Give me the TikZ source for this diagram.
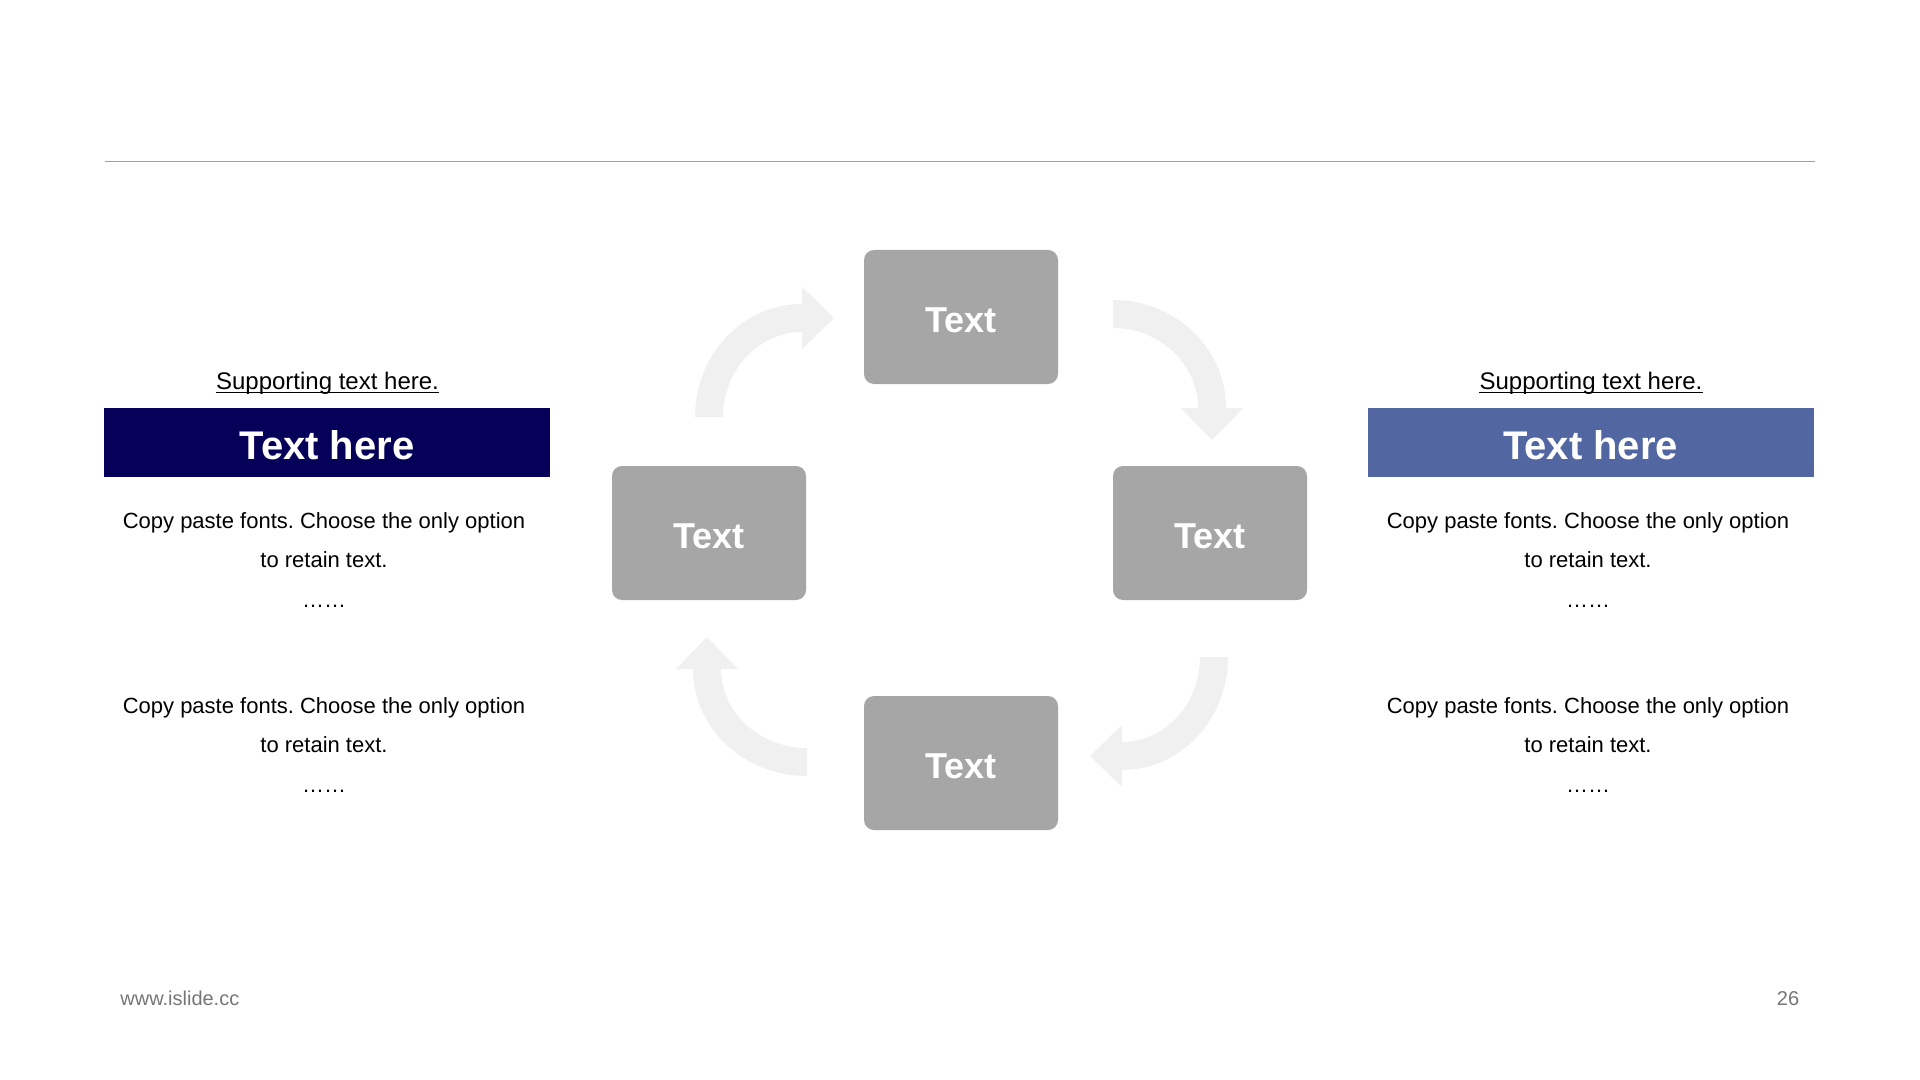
\documentclass[tikz,border=0pt]{standalone}
\usepackage{fontspec}
\setmainfont{Liberation Sans}
\definecolor{BoxGrey}{RGB}{166,166,166}
\definecolor{ArrowGrey}{RGB}{240,240,240}
\definecolor{NavyBar}{RGB}{5,0,88}
\definecolor{SteelBar}{RGB}{82,103,162}
\definecolor{RuleGrey}{RGB}{160,160,160}
\definecolor{FootGrey}{RGB}{118,118,118}
\usepackage{tikz}
\frenchspacing

\begin{document}
\begin{tikzpicture}[x=0.5pt, y=-0.5pt]
		\tikzstyle{stage}=[fill=BoxGrey, rounded corners=5pt, minimum width=97pt, minimum height=67pt, inner sep=0pt, text height=15.4pt, text depth=0pt, text=white, font=\fontsize{18}{20}\selectfont\bfseries];
		\tikzstyle{bar}=[minimum width=223pt, minimum height=34.5pt, inner sep=0pt, text height=17pt, text depth=0pt, text=white, font=\fontsize{20}{24}\selectfont\bfseries];
		\tikzstyle{support}=[anchor=base, inner sep=0pt, font=\fontsize{12}{14}\selectfont];
		\tikzstyle{body}=[anchor=base, inner sep=0pt, font=\fontsize{11}{13}\selectfont];
		\tikzstyle{turn}=[fill=ArrowGrey, draw=none];
		\tikzstyle{foot}=[anchor=base, inner sep=0pt, text=FootGrey, font=\fontsize{10}{12}\selectfont];
		\fill[white] (0,0) rectangle (1920,1080);
		\useasboundingbox (0,0) rectangle (1920,1080);
		\draw[RuleGrey, line width=0.6pt] (105,161.5) -- (1815,161.5);
		% curved arrows
		\fill[turn] (695,417) arc[start angle=180, end angle=270, x radius=107, y radius=113]
			-- (802,287) -- (834,318) -- (802,349) -- (802,332)
			arc[start angle=270, end angle=180, x radius=79, y radius=85] -- cycle;
		\fill[turn] (1113,300) arc[start angle=270, end angle=360, x radius=113, y radius=108]
			-- (1243,408) -- (1212,440) -- (1181,408) -- (1198,408)
			arc[start angle=360, end angle=270, x radius=85, y radius=80] -- cycle;
		\fill[turn] (1228,657) arc[start angle=0, end angle=90, x radius=106, y radius=113]
			-- (1122,787) -- (1090,756) -- (1122,725) -- (1122,742)
			arc[start angle=90, end angle=0, x radius=78, y radius=85] -- cycle;
		\fill[turn] (807,776) arc[start angle=90, end angle=180, x radius=114, y radius=107]
			-- (676,669) -- (707,637) -- (738,669) -- (721,669)
			arc[start angle=180, end angle=90, x radius=86, y radius=79] -- cycle;
		% cycle boxes
		\node[stage] (top) at (961,317) {Text};
		\node[stage] (left) at (709,533) {Text};
		\node[stage] (right) at (1210,533) {Text};
		\node[stage] (bottom) at (961,763) {Text};
		% left column
		\node[support] (supL) at (327.5,389) {Supporting text here.};
		\draw[line width=0.7pt] ([yshift=-1.6pt]supL.base west) -- ([yshift=-1.6pt]supL.base east);
		\node[bar, fill=NavyBar] (barL) at (327,442.5) {Text here};
		\node[body] (copyL1a) at (324,528) {Copy paste fonts. Choose the only option};
		\node[body] (copyL1b) at (324,567) {to retain text.};
		\node[body] (copyL1c) at (324,607) {……};
		\node[body] (copyL2a) at (324,713) {Copy paste fonts. Choose the only option};
		\node[body] (copyL2b) at (324,752) {to retain text.};
		\node[body] (copyL2c) at (324,792) {……};
		% right column
		\node[support] (supR) at (1591,389) {Supporting text here.};
		\draw[line width=0.7pt] ([yshift=-1.6pt]supR.base west) -- ([yshift=-1.6pt]supR.base east);
		\node[bar, fill=SteelBar] (barR) at (1590.5,442.5) {Text here};
		\node[body] (copyR1a) at (1588,528) {Copy paste fonts. Choose the only option};
		\node[body] (copyR1b) at (1588,567) {to retain text.};
		\node[body] (copyR1c) at (1588,607) {……};
		\node[body] (copyR2a) at (1588,713) {Copy paste fonts. Choose the only option};
		\node[body] (copyR2b) at (1588,752) {to retain text.};
		\node[body] (copyR2c) at (1588,792) {……};
		% footer
		\node[foot, anchor=base west] (site) at (120,1005) {www.islide.cc};
		\node[foot] (page) at (1788,1005) {26};
\end{tikzpicture}
\end{document}
